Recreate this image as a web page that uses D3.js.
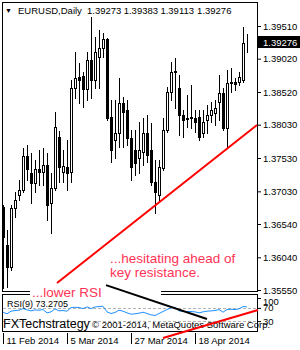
<!DOCTYPE html>
<html>
<head>
<meta charset="utf-8">
<script src="https://cdnjs.cloudflare.com/ajax/libs/d3/7.8.5/d3.min.js"></script>
<style>
body { margin: 0; background: #fff; }
svg { display: block; font-family: "Liberation Sans", Arial, sans-serif; }
</style>
</head>
<body>
<svg id="chart" width="300" height="350"></svg>
<script>
// daily EURUSD bars (bar 0 = 11 Feb 2014)
var opens = [
    1.36795, 1.36225, 1.35895, 1.3678, 1.36975, 1.3705, 1.3756, 1.37305, 1.37155, 1.37365,
    1.3732, 1.37425, 1.36855, 1.3708, 1.37845, 1.3732, 1.37395, 1.3732, 1.3858, 1.38745,
    1.3876, 1.38565, 1.3900, 1.3870, 1.39045, 1.3918, 1.39315, 1.38145, 1.3780, 1.37905,
    1.38355, 1.3825, 1.3783, 1.3765, 1.3753, 1.3762, 1.37905, 1.3765, 1.3717, 1.36975,
    1.3738, 1.3795, 1.3852, 1.38835, 1.3858, 1.38175, 1.3813, 1.3813, 1.3813, 1.38145,
    1.37905, 1.3810, 1.38175, 1.38205, 1.3837, 1.38505, 1.3798, 1.38655, 1.3867, 1.3867,
    1.3870, 1.39273
];
var highs = [
    1.36825, 1.3645, 1.36825, 1.3702, 1.3720, 1.3768, 1.37725, 1.37605, 1.3750, 1.3765,
    1.3768, 1.37605, 1.37305, 1.3822, 1.37935, 1.3765, 1.3780, 1.3870, 1.3912, 1.38955,
    1.3882, 1.3912, 1.39645, 1.39345, 1.3945, 1.39405, 1.3933, 1.3840, 1.3840, 1.3873,
    1.38445, 1.3840, 1.3795, 1.3795, 1.3807, 1.3813, 1.38175, 1.38055, 1.3750, 1.3750,
    1.3813, 1.38595, 1.3897, 1.3903, 1.38775, 1.3825, 1.38475, 1.38625, 1.3825, 1.3825,
    1.3825, 1.38325, 1.3837, 1.3840, 1.38775, 1.3858, 1.3885, 1.3888, 1.3873, 1.3882,
    1.39495, 1.39383
];
var lows = [
    1.3558, 1.35595, 1.3585, 1.36645, 1.3690, 1.3702, 1.3720, 1.36855, 1.3702, 1.37125,
    1.37125, 1.3660, 1.36405, 1.3705, 1.3717, 1.3717, 1.3705, 1.3717, 1.3843, 1.38355,
    1.38295, 1.3840, 1.3843, 1.3858, 1.3858, 1.39045, 1.3810, 1.3747, 1.3753, 1.37695,
    1.37695, 1.37725, 1.3720, 1.37275, 1.37305, 1.37425, 1.3747, 1.37125, 1.36705, 1.3690,
    1.3735, 1.3792, 1.3840, 1.3828, 1.37875, 1.37845, 1.37995, 1.3798, 1.3792, 1.3780,
    1.37845, 1.37905, 1.3807, 1.38025, 1.3810, 1.3795, 1.3768, 1.3852, 1.3855, 1.38625,
    1.3867, 1.39113
];
var closes = [
    1.36345, 1.35895, 1.3678, 1.3690, 1.3705, 1.3756, 1.37365, 1.37155, 1.37365, 1.3732,
    1.37425, 1.36825, 1.3708, 1.37995, 1.37395, 1.3741, 1.37305, 1.3858, 1.3873, 1.3870,
    1.38565, 1.3900, 1.3870, 1.3912, 1.3918, 1.39315, 1.3813, 1.3765, 1.37905, 1.38355,
    1.3822, 1.3783, 1.37395, 1.37455, 1.3765, 1.37905, 1.37575, 1.3717, 1.3702, 1.37395,
    1.3795, 1.3852, 1.3882, 1.3882, 1.38175, 1.3810, 1.38115, 1.38145, 1.3807, 1.37845,
    1.3807, 1.38175, 1.3825, 1.3828, 1.38505, 1.3798, 1.38655, 1.3867, 1.3864, 1.38745,
    1.39255, 1.39276
];
var rsiValues = [
    57, 52, 60, 62, 63, 68, 64, 61, 64, 63,
    65, 55, 58, 67, 61, 62, 60, 71, 72, 71,
    68, 73, 68, 73, 74, 75, 58, 53, 56, 63,
    60, 55, 51, 52, 54, 57, 53, 49, 47, 53,
    59, 65, 70, 72, 61, 59, 59, 59, 58, 55,
    58, 60, 61, 62, 65, 57, 65, 66, 65, 67,
    74, 73.2705
];
var dateLabels = ["11 Feb 2014", "5 Mar 2014", "27 Mar 2014", "18 Apr 2014"];
var dateLabelBars = [0, 16, 32, 48];
var priceTicks = [1.39510, 1.39020, 1.38520, 1.38030, 1.37530, 1.37030, 1.36540, 1.36040, 1.35550];
var rsiTicks = [100, 70, 30];
var rsiLevels = [70, 30];
// trend lines as [bar, value]
var priceTrend = [[13.5, 1.35655], [63.5, 1.38025]];
var rsiTrendDown = [[25.75, 139], [51, 36.4]];
var rsiTrendUp = [[40, -21], [63.75, 63.6]];

var svg = d3.select('#chart');
var n = closes.length;
var x = d3.scaleLinear().domain([0, n - 1]).range([3, 247]);
var y = d3.scaleLinear().domain([1.35550, 1.39510]).range([290, 26]);
var yRsi = d3.scaleLinear().domain([0, 100]).range([331, 298]);
var fmt = d3.format('.5f');
var bars = d3.range(n);
var red = '#ff3355';

svg.append('defs').append('clipPath').attr('id', 'mainClip')
    .append('rect').attr('x', 3).attr('y', 3).attr('width', 254).attr('height', 288);

// candles
var cg = svg.append('g').attr('clip-path', 'url(#mainClip)').attr('shape-rendering', 'crispEdges');
cg.selectAll('line').data(bars).enter().append('line')
    .attr('x1', function (i) { return Math.round(x(i)) + 0.5; })
    .attr('x2', function (i) { return Math.round(x(i)) + 0.5; })
    .attr('y1', function (i) { return Math.round(y(highs[i])); })
    .attr('y2', function (i) { return Math.round(y(lows[i])) + 1; })
    .attr('stroke', '#000');
cg.selectAll('rect').data(bars).enter().append('rect')
    .each(function (i) {
        var cx = Math.round(x(i));
        var top = Math.round(y(Math.max(opens[i], closes[i])));
        var bot = Math.round(y(Math.min(opens[i], closes[i])));
        var r = d3.select(this);
        if (closes[i] >= opens[i]) {
            r.attr('x', cx - 0.5).attr('y', top + 0.5).attr('width', 2).attr('height', Math.max(bot - top, 0))
                .attr('fill', '#fff').attr('stroke', '#000');
        } else {
            r.attr('x', cx - 1).attr('y', top).attr('width', 3).attr('height', Math.max(bot - top, 0) + 1)
                .attr('fill', '#000');
        }
    });

// frames
var frames = svg.append('g').attr('fill', 'none').attr('stroke', '#000').attr('shape-rendering', 'crispEdges');
frames.append('rect').attr('x', 2.5).attr('y', 2.5).attr('width', 255).attr('height', 289);
frames.append('rect').attr('x', 2.5).attr('y', 294.5).attr('width', 255).attr('height', 37);

// header
var header = svg.append('g').attr('font-size', 9.5).attr('fill', '#000');
header.append('text').attr('x', 5).attr('y', 13).attr('font-size', 7).text('\u25BC');
header.append('text').attr('x', 18).attr('y', 14).text('EURUSD,Daily');
[opens[n - 1], highs[n - 1], lows[n - 1], closes[n - 1]].forEach(function (v, k) {
    header.append('text').attr('x', 87 + k * 36.7).attr('y', 14).text(fmt(v));
});

// price axis
svg.append('g').attr('transform', 'translate(257,0)')
    .call(d3.axisRight(y).tickValues(priceTicks).tickSize(4).tickPadding(2).tickFormat(fmt))
    .call(function (g) {
        g.select('.domain').remove();
        g.attr('font-size', 9.5).attr('font-family', null);
        g.selectAll('text').attr('fill', '#000');
    });
var lastY = Math.round(y(closes[n - 1]));
svg.append('rect').attr('x', 258).attr('y', lastY - 6).attr('width', 42).attr('height', 12).attr('fill', '#000');
svg.append('text').attr('x', 263).attr('y', lastY + 3.5).attr('font-size', 9.5).attr('fill', '#fff').text(fmt(closes[n - 1]));

// red trend line on price
var line = d3.line().x(function (d) { return x(d[0]); });
svg.append('path').datum(priceTrend)
    .attr('d', line.y(function (d) { return y(d[1]); }))
    .attr('stroke', '#ff0000').attr('stroke-width', 2).attr('fill', 'none');

// white patch behind "lower RSI" label
svg.append('rect').attr('x', 30).attr('y', 284).attr('width', 131).attr('height', 16).attr('fill', '#fff');

// RSI window
svg.selectAll('line.lvl').data(rsiLevels).enter().append('line')
    .attr('x1', 3).attr('x2', 257)
    .attr('y1', function (d) { return Math.round(yRsi(d)) + 0.5; })
    .attr('y2', function (d) { return Math.round(yRsi(d)) + 0.5; })
    .attr('stroke', '#b4b4b4').attr('stroke-dasharray', '3,2');
svg.append('path').datum(bars)
    .attr('d', d3.line().x(function (i) { return x(i); }).y(function (i) { return yRsi(rsiValues[i]); }))
    .attr('stroke', '#1e90ff').attr('stroke-width', 1).attr('fill', 'none');
svg.append('text').attr('x', 7).attr('y', 307).attr('font-size', 9).attr('fill', '#000')
    .text('RSI(9) ' + d3.format('.4f')(rsiValues[n - 1]));
svg.append('g').attr('transform', 'translate(257,0)')
    .call(d3.axisRight(yRsi).tickValues(rsiTicks).tickSize(4).tickPadding(2))
    .call(function (g) {
        g.select('.domain').remove();
        g.attr('font-size', 9.5).attr('font-family', null);
        g.selectAll('text').attr('fill', '#000');
        // top label is kept inside the window
        g.selectAll('.tick').filter(function (d) { return d === 100; })
            .select('text').attr('y', 3.5);
    });

var foot = svg.append('g').attr('fill', '#000');
foot.append('text').attr('x', 3).attr('y', 328).attr('font-size', 12.5).text('FXTechstrategy');
foot.append('text').attr('x', 92).attr('y', 328).attr('font-size', 9.5).text('\u00A9 2001-2014, MetaQuotes Software Corp.');

svg.append('path').datum(rsiTrendDown)
    .attr('d', line.y(function (d) { return yRsi(d[1]); }))
    .attr('stroke', '#000').attr('stroke-width', 2).attr('fill', 'none');
svg.append('path').datum(rsiTrendUp)
    .attr('d', line.y(function (d) { return yRsi(d[1]); }))
    .attr('stroke', '#ff0000').attr('stroke-width', 2).attr('fill', 'none');

// annotations
var notes = svg.append('g').attr('font-size', 13.5).attr('fill', red);
notes.append('text').attr('x', 32).attr('y', 297).text('...lower RSI');
notes.append('text').attr('x', 110).attr('y', 263).text('...hesitating ahead of');
notes.append('text').attr('x', 110).attr('y', 277).text('key resistance.');

// time axis
var tg = svg.append('g').attr('font-size', 9.5).attr('fill', '#000');
dateLabelBars.forEach(function (b, k) {
    var tx = Math.round(x(b)) + 0.5;
    tg.append('line').attr('x1', tx).attr('x2', tx).attr('y1', 333).attr('y2', 344)
        .attr('stroke', '#000').attr('shape-rendering', 'crispEdges');
    tg.append('text').attr('x', tx + 3).attr('y', 344).text(dateLabels[k]);
});
</script>
</body>
</html>
